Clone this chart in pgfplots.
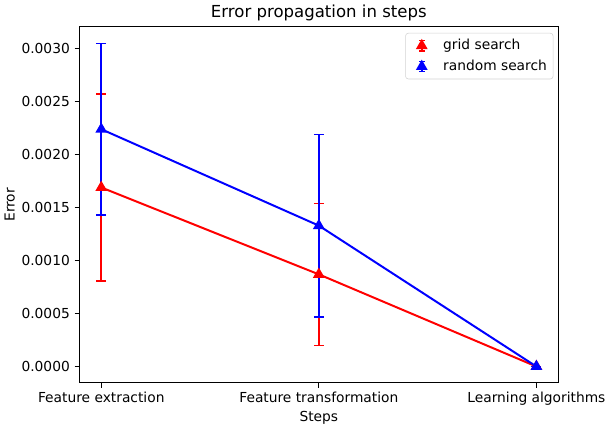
\documentclass[border=0pt]{standalone}
\usepackage{pgfplots}
\pgfplotsset{compat=1.18}
\usepackage{fontspec}
\setmainfont{DejaVu Sans}
\setsansfont{DejaVu Sans}

\begin{document}
\begin{tikzpicture}
\begin{axis}[
    scale only axis,
    width=347pt, height=258pt,
    xmin=-0.1, xmax=2.1,
    ymin=-0.000153, ymax=0.003206,
    xtick={0,1,2},
    xticklabels={Feature extraction,Feature transformation,Learning algorithms},
    ytick={0,0.0005,0.001,0.0015,0.002,0.0025,0.003},
    scaled y ticks=false,
    yticklabel style={/pgf/number format/.cd, fixed, fixed zerofill, precision=4, assume math mode=true},
    xtick pos=left, ytick pos=left,
    tick align=outside,
    major tick length=3.5pt,
    axis line style={line width=0.8pt},
    tick style={line width=0.8pt, black},
    tick label style={font=\fontsize{10}{12}\selectfont},
    label style={font=\fontsize{10}{12}\selectfont},
    xlabel={Steps}, ylabel={Error},
    xlabel style={yshift=3pt},
    ylabel style={yshift=-2pt},
    title={Error propagation in steps},
    title style={font=\fontsize{12}{14}\selectfont, yshift=-5pt},
    legend style={at={(0.99,0.983)}, anchor=north east, font=\fontsize{10}{12}\selectfont,
        draw=gray!35, rounded corners=2pt, fill=white, inner sep=2.5pt,
        row sep=2pt},
    legend cell align=left,
    legend image code/.code={
        \path (0cm,0cm) (0.75cm,0cm);
        \draw[#1, mark=none, line width=1.2pt] (0.3cm,-0.13cm) -- (0.3cm,0.13cm);
        \draw[#1, mark=none, line width=1.2pt] (0.23cm,-0.13cm) -- (0.37cm,-0.13cm);
        \draw[#1, mark=none, line width=1.2pt] (0.23cm,0.13cm) -- (0.37cm,0.13cm);
        \draw[#1, only marks] plot coordinates {(0.3cm,0cm)};
    },
]
\addplot[color=red, line width=1.44pt, mark=triangle*, mark size=3.5pt,
    mark options={solid},
    error bars/.cd, y dir=both, y explicit, error mark=|,
    error bar style={line width=1.2pt, red},
    error mark options={line width=1.2pt, red, mark size=3.6pt}]
    coordinates {
    (0,0.00169) +- (0,0.00088)
    (1,0.00087) +- (0,0.00067)
    (2,0.0) +- (0,0.0)
    };
\addlegendentry{grid search}
\addplot[color=blue, line width=1.44pt, mark=triangle*, mark size=3.5pt,
    mark options={solid},
    error bars/.cd, y dir=both, y explicit, error mark=|,
    error bar style={line width=1.2pt, blue},
    error mark options={line width=1.2pt, blue, mark size=3.6pt}]
    coordinates {
    (0,0.00224) +- (0,0.00081)
    (1,0.00133) +- (0,0.00086)
    (2,0.0) +- (0,0.0)
    };
\addlegendentry{random search}
\end{axis}
\end{tikzpicture}
\end{document}
